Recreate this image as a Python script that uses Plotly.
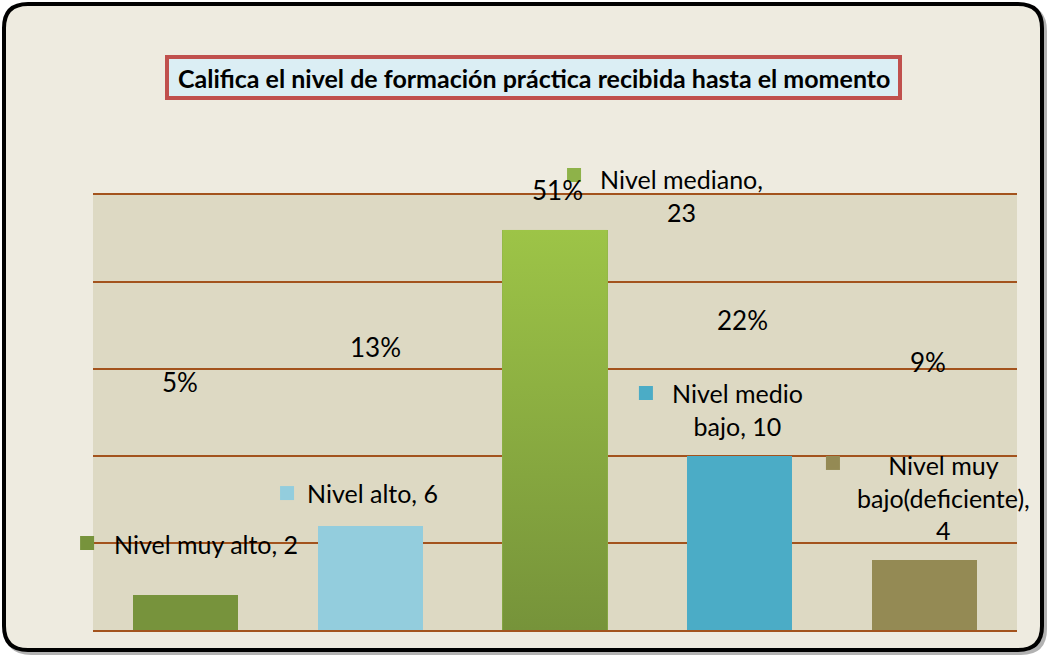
import base64
import plotly.graph_objects as go

# data
categories = ["Nivel muy alto", "Nivel alto", "Nivel mediano", "Nivel medio bajo", "Nivel muy bajo(deficiente)"]
values = [2, 6, 23, 10, 4]
percent_labels = ["5%", "13%", "51%", "22%", "9%"]
data_labels = [
    "Nivel muy alto, 2",
    "Nivel alto, 6",
    "Nivel mediano,<br>23",
    "Nivel medio<br>bajo, 10",
    "Nivel muy<br>bajo(deficiente),<br>4",
]
bar_colors = ["#77933C", "#93CDDD", "#8EB249", "#4BACC6", "#948A54"]
title_text = "Califica el nivel de formación práctica recibida hasta el momento"

# layout (pixel frame of plot area)
W, H = 1047, 655
L, R, T, B = 93, 1017, 195, 630
FONT = "Lato"
BAR_W = 0.57
X_RANGE = [-0.5, 4.5]
Y_RANGE = [0, 25]

# label placement in axis units: (square x, square y, text x, text y)
label_pos = [
    (-0.532, 5.0, 0.114, 4.95),
    (0.550, 7.87, 1.015, 7.87),
    (2.103, 26.15, 2.687, 25.0),
    (2.492, 13.62, 2.985, 12.67),
    (3.504, 9.60, 4.10, 7.64),
]
pct_pos = [(-0.029, 14.25), (1.026, 16.26), (2.016, 25.29), (3.017, 17.82), (4.018, 15.40)]


def px(X):
    return (X - L) / (R - L)


def py(Y):
    return (B - Y) / (B - T)


def ax_x(v):
    return (v - X_RANGE[0]) / (X_RANGE[1] - X_RANGE[0])


def ax_y(v):
    return (v - Y_RANGE[0]) / (Y_RANGE[1] - Y_RANGE[0])


def rounded_rect(x0, y0, x1, y1, r):
    return (
        f"M {px(x0 + r)} {py(y0)} L {px(x1 - r)} {py(y0)} Q {px(x1)} {py(y0)} {px(x1)} {py(y0 + r)} "
        f"L {px(x1)} {py(y1 - r)} Q {px(x1)} {py(y1)} {px(x1 - r)} {py(y1)} "
        f"L {px(x0 + r)} {py(y1)} Q {px(x0)} {py(y1)} {px(x0)} {py(y1 - r)} "
        f"L {px(x0)} {py(y0 + r)} Q {px(x0)} {py(y0)} {px(x0 + r)} {py(y0)} Z"
    )


xs = list(range(len(values)))

fig = go.Figure()
fig.add_trace(
    go.Bar(
        x=xs,
        y=values,
        width=BAR_W,
        marker=dict(color=bar_colors, line=dict(width=0)),
        hoverinfo="skip",
    )
)

annotations = []
for txt, p in zip(data_labels, label_pos):
    annotations.append(
        dict(xref="paper", yref="paper", x=ax_x(p[2]), y=ax_y(p[3]), text=txt,
             showarrow=False, align="center", xanchor="center", yanchor="middle",
             font=dict(family=FONT, size=25, color="black"))
    )
for txt, p in zip(percent_labels, pct_pos):
    annotations.append(
        dict(xref="paper", yref="paper", x=ax_x(p[0]), y=ax_y(p[1]), text=txt,
             showarrow=False, xanchor="center", yanchor="middle",
             font=dict(family=FONT, size=26, color="black"))
    )
annotations.append(
    dict(xref="paper", yref="paper", x=px(533.5), y=py(78), text="<b>" + title_text + "</b>",
         xanchor="center", yanchor="middle",
         showarrow=False, font=dict(family=FONT, size=25, color="black"))
)

shapes = [
    # shadow of the outer frame
    dict(type="path", xref="paper", yref="paper", path=rounded_rect(7, 7, 1045, 653, 24),
         line=dict(color="rgba(0,0,0,0.3)", width=4), fillcolor="rgba(0,0,0,0)", layer="below"),
    dict(type="path", xref="paper", yref="paper", path=rounded_rect(4, 4, 1042, 650, 24),
         line=dict(color="black", width=4), fillcolor="#EEEBE0", layer="below"),
    dict(type="rect", xref="paper", yref="paper", x0=0, x1=1, y0=0, y1=1,
         line=dict(width=0), fillcolor="#DDD9C3", layer="below"),
    dict(type="rect", xref="paper", yref="paper", x0=px(167), x1=px(900), y0=py(57), y1=py(98),
         line=dict(color="#C0504D", width=4), fillcolor="#DBEEF4", layer="below"),
]
# legend-key squares next to the data labels
for color, p in zip(bar_colors, label_pos):
    shapes.append(
        dict(type="rect", xref="paper", yref="paper", xsizemode="pixel", ysizemode="pixel",
             xanchor=ax_x(p[0]), yanchor=ax_y(p[1]), x0=-7, x1=7, y0=-7, y1=7,
             line=dict(width=0), fillcolor=color, layer="above")
    )

# gradient overlay for the tallest bar
svg = (
    '<svg xmlns="http://www.w3.org/2000/svg" width="10" height="100" viewBox="0 0 10 100" preserveAspectRatio="none">'
    '<defs><linearGradient id="g" x1="0" y1="0" x2="0" y2="1">'
    '<stop offset="0" stop-color="#9DC447"/><stop offset="1" stop-color="#76933A"/>'
    '</linearGradient></defs><rect width="10" height="100" fill="url(#g)"/></svg>'
)
img_src = "data:image/svg+xml;base64," + base64.b64encode(svg.encode()).decode()
top_i = values.index(max(values))
images = [
    dict(source=img_src, xref="x", yref="y", x=top_i - BAR_W / 2, y=values[top_i],
         sizex=BAR_W, sizey=values[top_i], xanchor="left", yanchor="top",
         sizing="stretch", layer="above")
]

fig.update_layout(
    width=W,
    height=H,
    margin=dict(l=L, r=W - R, t=T, b=H - B),
    paper_bgcolor="white",
    plot_bgcolor="rgba(0,0,0,0)",
    showlegend=False,
    bargap=0,
    xaxis=dict(range=X_RANGE, showgrid=False, zeroline=False, showticklabels=False,
               ticks="", fixedrange=True, showline=True, mirror=True,
               linecolor="#A3531D", linewidth=2),
    yaxis=dict(range=Y_RANGE, dtick=5, showgrid=True, gridcolor="#A3531D", gridwidth=2,
               zeroline=False, showticklabels=False, ticks="", fixedrange=True),
    shapes=shapes,
    annotations=annotations,
    images=images,
)

fig.write_html(
    "out.html",
    config={"displayModeBar": False},
    post_script="document.body.style.margin='0px';",
)
